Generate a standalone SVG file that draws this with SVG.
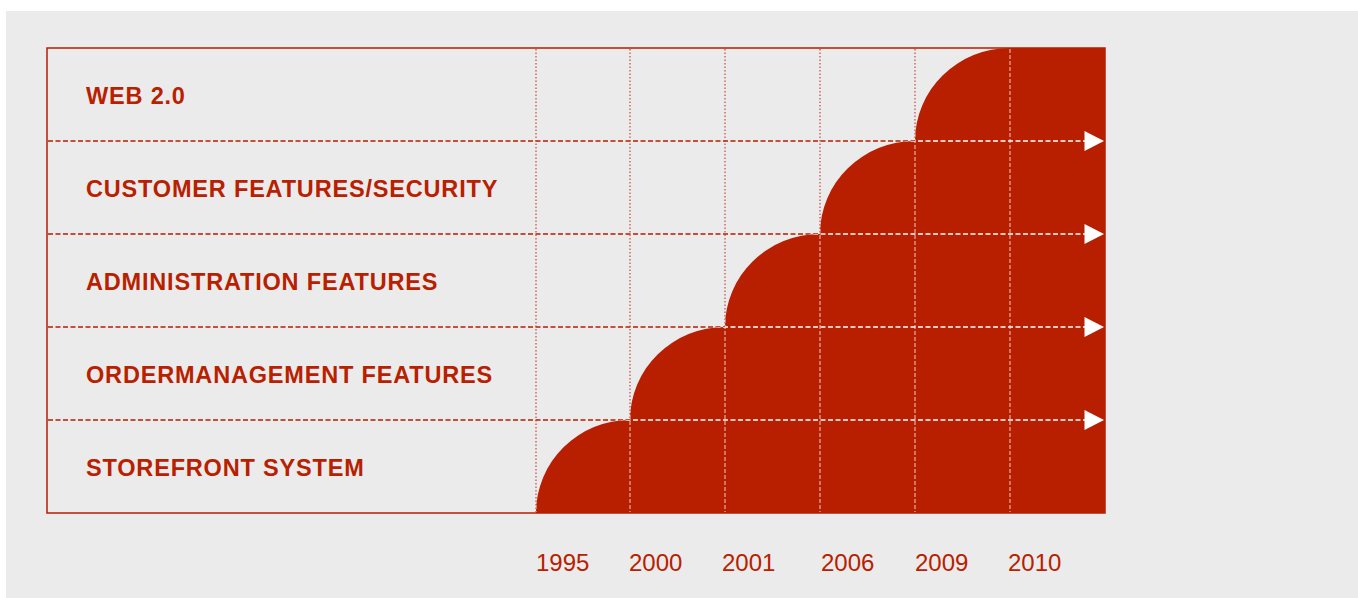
<svg xmlns="http://www.w3.org/2000/svg" width="1358" height="598" viewBox="0 0 1358 598">
  <style>
    .lbl { font-family: "Liberation Sans", Arial, sans-serif; font-weight: bold; font-size: 23.5px; letter-spacing: 0.82px; fill: #B82000; }
    .yr { font-family: "Liberation Sans", Arial, sans-serif; font-size: 24px; fill: #B82000; }
    .hr { stroke: #B81E00; stroke-width: 1.5; stroke-dasharray: 5 2.5; fill: none; }
    .vr { stroke: #C43A2C; stroke-width: 1.1; stroke-dasharray: 1.5 2; fill: none; }
    .hw { stroke: #FFFFFF; stroke-width: 1.5; stroke-dasharray: 5 2.5; fill: none; }
    .vw { stroke: #FFFFFF; stroke-opacity: 0.7; stroke-width: 1.1; stroke-dasharray: 4 2; fill: none; }
    .arw { fill: #FFFFFF; }
  </style>
  <defs>
    <path id="stairs" d="M536,513 A94,93 0 0 1 630,420 A95,93 0 0 1 725,327 A95,93 0 0 1 820,234 A95,93 0 0 1 915,141 A95,93 0 0 1 1010,48 L1105,48 L1105,513 Z"/>
    <clipPath id="inRed"><use href="#stairs"/></clipPath>
  </defs>
  <rect x="0" y="0" width="1358" height="598" fill="#FFFFFF"/>
  <rect x="6" y="11" width="1352" height="587" fill="#EBEBEB"/>

  <g id="frame">
    <rect x="47" y="48" width="1058" height="465" fill="none" stroke="#B81E00" stroke-width="1.5"/>
  </g>

  <g id="grid">
    <line class="hr" x1="48" y1="141" x2="1086" y2="141"/>
    <line class="hr" x1="48" y1="234" x2="1086" y2="234"/>
    <line class="hr" x1="48" y1="327" x2="1086" y2="327"/>
    <line class="hr" x1="48" y1="420" x2="1086" y2="420"/>
    <line class="vr" x1="536" y1="49" x2="536" y2="512"/>
    <line class="vr" x1="630" y1="49" x2="630" y2="512"/>
    <line class="vr" x1="725" y1="49" x2="725" y2="512"/>
    <line class="vr" x1="820" y1="49" x2="820" y2="512"/>
    <line class="vr" x1="915" y1="49" x2="915" y2="512"/>
    <line class="vr" x1="1010" y1="49" x2="1010" y2="512"/>
  </g>

  <g id="staircase">
    <use href="#stairs" fill="#B81E00"/>
  </g>

  <g id="connectors" clip-path="url(#inRed)">
    <line class="hw" x1="48" y1="141" x2="1086" y2="141"/>
    <line class="hw" x1="48" y1="234" x2="1086" y2="234"/>
    <line class="hw" x1="48" y1="327" x2="1086" y2="327"/>
    <line class="hw" x1="48" y1="420" x2="1086" y2="420"/>
    <line class="vw" x1="536" y1="49" x2="536" y2="512"/>
    <line class="vw" x1="630" y1="49" x2="630" y2="512"/>
    <line class="vw" x1="725" y1="49" x2="725" y2="512"/>
    <line class="vw" x1="820" y1="49" x2="820" y2="512"/>
    <line class="vw" x1="915" y1="49" x2="915" y2="512"/>
    <line class="vw" x1="1010" y1="49" x2="1010" y2="512"/>
    <polygon class="arw" points="1084.5,131 1104,141 1084.5,151"/>
    <polygon class="arw" points="1084.5,224 1104,234 1084.5,244"/>
    <polygon class="arw" points="1084.5,317 1104,327 1084.5,337"/>
    <polygon class="arw" points="1084.5,410 1104,420 1084.5,430"/>
  </g>

  <g id="row-web20"><text class="lbl" x="86" y="104">WEB 2.0</text></g>
  <g id="row-customer"><text class="lbl" x="86" y="197">CUSTOMER FEATURES/SECURITY</text></g>
  <g id="row-admin"><text class="lbl" x="86" y="290">ADMINISTRATION FEATURES</text></g>
  <g id="row-order"><text class="lbl" x="86" y="383">ORDERMANAGEMENT FEATURES</text></g>
  <g id="row-storefront"><text class="lbl" x="86" y="476">STOREFRONT SYSTEM</text></g>

  <g id="years">
    <text class="yr" x="536" y="571">1995</text>
    <text class="yr" x="629" y="571">2000</text>
    <text class="yr" x="722" y="571">2001</text>
    <text class="yr" x="821" y="571">2006</text>
    <text class="yr" x="915" y="571">2009</text>
    <text class="yr" x="1008" y="571">2010</text>
  </g>
</svg>
